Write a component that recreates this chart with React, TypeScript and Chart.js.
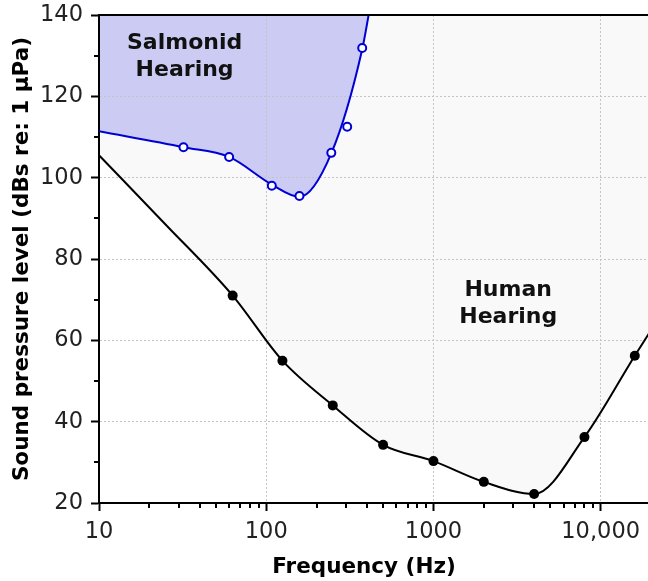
import React, { useEffect, useRef } from 'react';
import { Chart, registerables } from 'chart.js';

Chart.register(...registerables);

// Human hearing threshold (measured points)
const humanFreq = [63, 125, 250, 500, 1000, 2000, 4000, 8000, 16000];
const humanLevel = [71, 55, 44, 34.3, 30.3, 25.2, 22.2, 36.2, 56.2];
// Human hearing curve (smooth line)
const humanCurveFreq = [10, 25, 63, 125, 250, 500, 1000, 2000, 4000, 8000, 16000, 20000];
const humanCurveLevel = [105.5, 88.5, 71, 55, 44, 34.3, 30.3, 25.2, 22.2, 36.2, 56.2, 62.5];

// Salmonid hearing threshold (measured points)
const fishFreq = [32, 60, 108, 158, 245, 305, 375];
const fishLevel = [107.5, 105.1, 98, 95.5, 106.1, 112.5, 131.9];
// Salmonid hearing curve (smooth line)
const fishCurveFreq = [10, 32, 60, 108, 158, 245, 375, 430];
const fishCurveLevel = [111.4, 107.5, 105.1, 98.3, 95.3, 106, 131.6, 145];

const xMajorTicks = [10, 100, 1000, 10000];
const xTickLabels = ['10', '100', '1000', '10,000'];
const yMin = 20;
const yMax = 140;
const yStep = 20;
const xMin = 10;
const xMax = 20000;

const fishLabel = ['Salmonid', 'Hearing'];
const fishLabelAt = { x: 32.5, y: 129.8 };
const humanLabel = ['Human', 'Hearing'];
const humanLabelAt = { x: 2800, y: 69.0 };

const xTitle = 'Frequency (Hz)';
const yTitle = 'Sound pressure level (dBs re: 1 µPa)';

const pts = (xs: number[], ys: number[]) => xs.map((x, i) => ({ x, y: ys[i] }));

const FONT = "'DejaVu Sans', Verdana, sans-serif";

const extrasPlugin = {
  id: 'extras',
  afterDraw(chart: any) {
    const { ctx, chartArea, scales } = chart;
    const xs = scales.x;
    const ys = scales.y;
    ctx.save();
    // minor ticks
    ctx.strokeStyle = '#000';
    ctx.lineWidth = 2;
    ctx.beginPath();
    for (let v = yMin + yStep / 2; v < yMax; v += yStep) {
      const py = Math.round(ys.getPixelForValue(v));
      ctx.moveTo(chartArea.left - 5, py);
      ctx.lineTo(chartArea.left, py);
    }
    for (let d = xMin; d < xMax; d *= 10) {
      for (let m = 2; m <= 9; m++) {
        const v = d * m;
        if (v > xMax) break;
        const px = Math.round(xs.getPixelForValue(v));
        ctx.moveTo(px, chartArea.bottom);
        ctx.lineTo(px, chartArea.bottom + 5);
      }
    }
    ctx.stroke();
    // top border
    ctx.beginPath();
    ctx.moveTo(chartArea.left - 1, chartArea.top);
    ctx.lineTo(chartArea.right, chartArea.top);
    ctx.stroke();

    // annotations
    ctx.fillStyle = '#111';
    ctx.font = `bold 22px ${FONT}`;
    ctx.textAlign = 'center';
    ctx.textBaseline = 'middle';
    const drawLabel = (lines: string[], at: { x: number; y: number }) => {
      const cx = xs.getPixelForValue(at.x);
      const cy = ys.getPixelForValue(at.y);
      lines.forEach((t, i) => ctx.fillText(t, cx, cy + (i - (lines.length - 1) / 2) * 27));
    };
    drawLabel(fishLabel, fishLabelAt);
    drawLabel(humanLabel, humanLabelAt);

    // x axis title
    ctx.font = `bold 21.5px ${FONT}`;
    ctx.fillStyle = '#000';
    ctx.fillText(xTitle, chartArea.left + 265, chartArea.bottom + 64);
    ctx.restore();
  },
};

export default function App() {
  const ref = useRef<HTMLCanvasElement>(null);
  useEffect(() => {
    const canvas = ref.current!;
    const chart = new Chart(canvas, {
      type: 'line',
      data: {
        datasets: [
          {
            label: 'Salmonid points',
            data: pts(fishFreq, fishLevel),
            showLine: false,
            pointRadius: 4,
            pointBorderWidth: 2,
            pointBackgroundColor: '#fff',
            pointBorderColor: '#0000d4',
          },
          {
            label: 'Human points',
            data: pts(humanFreq, humanLevel),
            showLine: false,
            pointRadius: 5,
            pointBorderWidth: 0,
            pointBackgroundColor: '#000',
            pointBorderColor: '#000',
          },
          {
            label: 'Salmonid curve',
            data: pts(fishCurveFreq, fishCurveLevel),
            borderColor: '#0000d4',
            borderWidth: 2,
            backgroundColor: '#cbcbf3',
            fill: 'end',
            pointRadius: 0,
            cubicInterpolationMode: 'monotone',
          },
          {
            label: 'Human curve',
            data: pts(humanCurveFreq, humanCurveLevel),
            borderColor: '#000',
            borderWidth: 2,
            backgroundColor: '#f9f9f9',
            fill: 'end',
            pointRadius: 0,
            cubicInterpolationMode: 'monotone',
          },
        ],
      },
      options: {
        animation: false,
        responsive: false,
        events: [],
        layout: { padding: { top: 15, right: 19, bottom: 0, left: 0 } },
        plugins: {
          legend: { display: false },
          tooltip: { enabled: false },
          filler: { drawTime: 'beforeDraw' },
        } as any,
        scales: {
          x: {
            type: 'logarithmic',
            min: xMin,
            max: xMax,
            afterBuildTicks: (scale: any) => {
              scale.ticks = xMajorTicks.map((v) => ({ value: v }));
            },
            afterFit: (scale: any) => {
              scale.height = 78;
              scale.paddingLeft = 0;
              scale.paddingRight = 0;
            },
            ticks: {
              autoSkip: false,
              maxRotation: 0,
              padding: 8,
              color: '#222',
              font: { family: FONT, size: 22.5 },
              callback: (v: any) => {
                const i = xMajorTicks.indexOf(Number(v));
                return i >= 0 ? xTickLabels[i] : '';
              },
            },
            grid: {
              color: (c: any) => (c.tick && c.tick.value === xMin ? 'rgba(0,0,0,0)' : '#c4c4c4'),
              lineWidth: 1,
              tickColor: '#000',
              tickWidth: 2,
              tickLength: 8,
            },
            border: { display: true, color: '#000', width: 2, dash: [2, 2] },
            title: { display: false },
          },
          y: {
            type: 'linear',
            min: yMin,
            max: yMax,
            afterFit: (scale: any) => {
              scale.width = 99;
              scale.paddingTop = 0;
              scale.paddingBottom = 0;
            },
            ticks: {
              stepSize: yStep,
              padding: 8,
              color: '#222',
              font: { family: FONT, size: 22.5 },
            },
            grid: {
              color: (c: any) =>
                c.tick && (c.tick.value === yMin || c.tick.value === yMax) ? 'rgba(0,0,0,0)' : '#c4c4c4',
              lineWidth: 1,
              tickColor: '#000',
              tickWidth: 2,
              tickLength: 8,
            },
            border: { display: true, color: '#000', width: 2, dash: [2, 2] },
            title: {
              display: true,
              text: yTitle,
              color: '#000',
              font: { family: FONT, size: 21.5, weight: 'bold' },
              padding: { top: 10, bottom: 0 },
            },
          },
        },
      },
      plugins: [extrasPlugin],
    } as any);
    return () => chart.destroy();
  }, []);
  return (
    <div
      style={{
        position: 'absolute',
        left: 0,
        top: 0,
        width: 648,
        height: 581,
        overflow: 'hidden',
        background: '#fff',
      }}
    >
      <canvas ref={ref} width={670} height={581} style={{ display: 'block', width: 670, height: 581 }} />
    </div>
  );
}
